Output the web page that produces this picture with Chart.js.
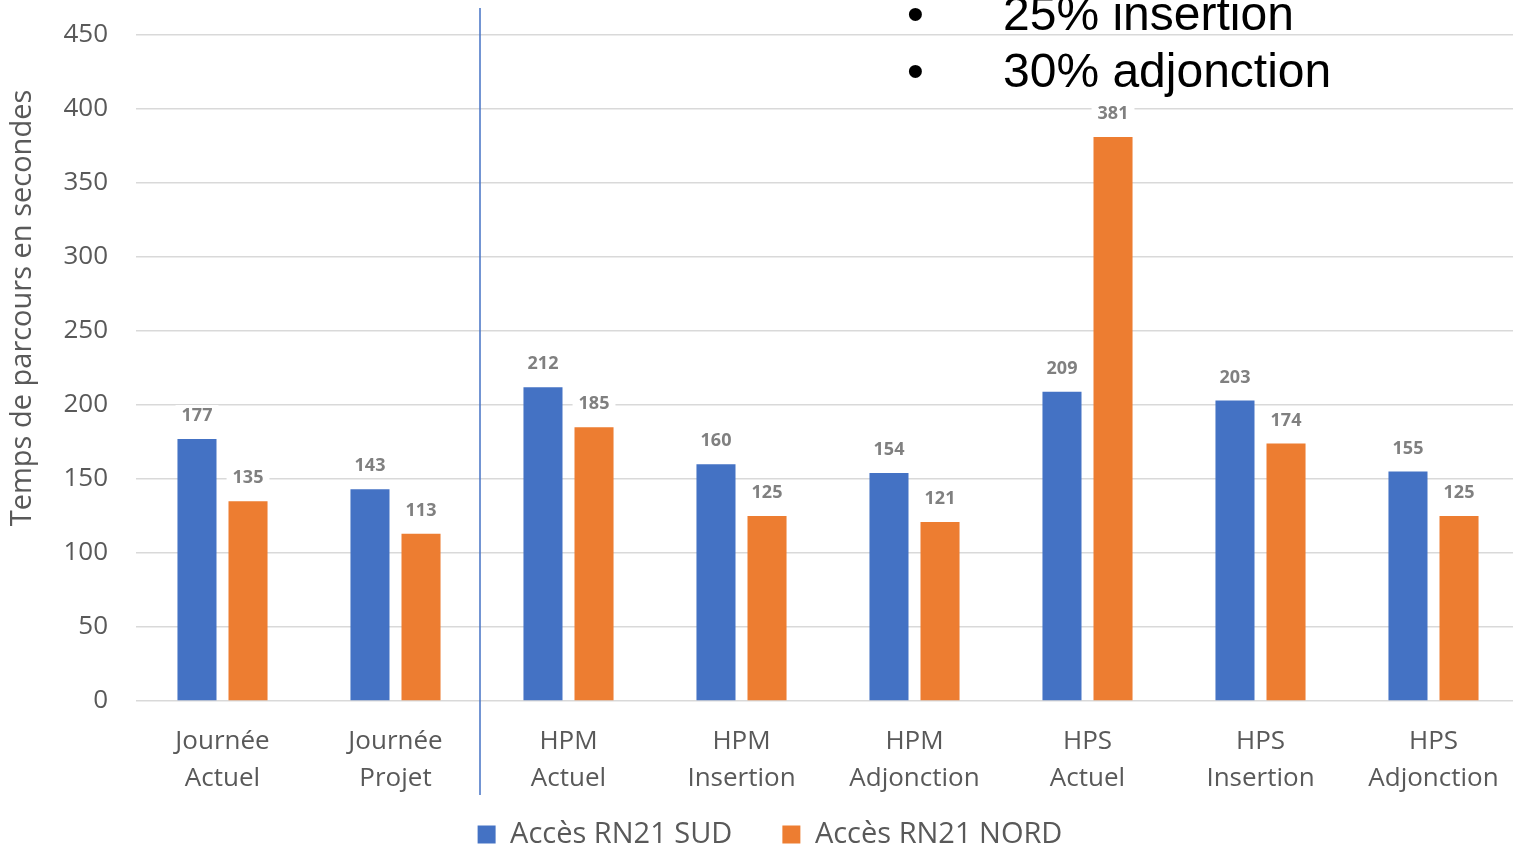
<!DOCTYPE html>
<html>
<head>
<meta charset="utf-8">
<script src="https://cdn.jsdelivr.net/npm/chart.js@4"></script>
<style>
  html, body { margin: 0; padding: 0; background: #fff; overflow: hidden; }
  #wrap { position: relative; width: 1513px; height: 849px; overflow: hidden; }
  .bullet { position: absolute; font-family: "Liberation Sans", Arial, sans-serif; font-size: 48px; color: #000; line-height: 1; white-space: nowrap; }
  .bullet span { position: absolute; left: 0; }
</style>
</head>
<body>
<div id="wrap">
  <canvas id="chart" width="1524" height="857"></canvas>
  <div class="bullet" style="left:907px; top:-10px;"><span>•</span><span style="left:96px;">25% insertion</span></div>
  <div class="bullet" style="left:907px; top:47px;"><span>•</span><span style="left:96px;">30% adjonction</span></div>
</div>
<script>
// Data
const categories = [
  ['Journée', 'Actuel'], ['Journée', 'Projet'],
  ['HPM', 'Actuel'], ['HPM', 'Insertion'], ['HPM', 'Adjonction'],
  ['HPS', 'Actuel'], ['HPS', 'Insertion'], ['HPS', 'Adjonction']
];
const sudValues = [177, 143, 212, 160, 154, 209, 203, 155];
const nordValues = [135, 113, 185, 125, 121, 381, 174, 125];
const yTicks = [0, 50, 100, 150, 200, 250, 300, 350, 400, 450];
const yTitle = 'Temps de parcours en secondes';

const FONT = '"Open Sans", "Noto Sans", sans-serif';
const GREY = '#595959';

// Value labels with white box behind (break the gridlines)
const valueLabels = {
  id: 'valueLabels',
  afterDatasetsDraw(chart) {
    const ctx = chart.ctx;
    ctx.save();
    ctx.font = 'bold 18px ' + FONT;
    ctx.textAlign = 'center';
    ctx.textBaseline = 'middle';
    chart.data.datasets.forEach((ds, i) => {
      chart.getDatasetMeta(i).data.forEach((bar, j) => {
        const txt = String(ds.data[j]);
        const w = ctx.measureText(txt).width + 12;
        const y = bar.y - 23;
        ctx.fillStyle = '#fff';
        ctx.fillRect(bar.x - w / 2, y - 11, w, 22);
        ctx.fillStyle = '#808080';
        ctx.fillText(txt, bar.x, y);
      });
    });
    ctx.restore();
  }
};

// Separator between "Journée" and peak-hour groups, plus y title (sits above centre)
const extras = {
  id: 'extras',
  afterLayout(chart) {
    // nudge legend like the original
    const lg = chart.legend;
    lg.left += 10; lg.right += 10;
    lg.top += 2; lg.bottom += 2;
  },
  afterDraw(chart) {
    const x = chart.scales.x;
    const px = (x.getPixelForValue(1) + x.getPixelForValue(2)) / 2 - 2;
    const ctx = chart.ctx;
    ctx.save();
    ctx.strokeStyle = '#4472C4';
    ctx.lineWidth = 1.5;
    ctx.beginPath();
    ctx.moveTo(px, 8);
    ctx.lineTo(px, 795);
    ctx.stroke();

    ctx.translate(23, 308);
    ctx.rotate(-Math.PI / 2);
    ctx.font = '29px ' + FONT;
    ctx.fillStyle = GREY;
    ctx.textAlign = 'center';
    ctx.textBaseline = 'middle';
    ctx.fillText(yTitle, 0, 0);
    ctx.restore();
  }
};

const ctx = document.getElementById('chart').getContext('2d');
const chart = new Chart(ctx, {
  type: 'bar',
  data: {
    labels: categories,
    datasets: [
      { label: 'Accès RN21 SUD', data: sudValues, backgroundColor: '#4472C4' },
      { label: 'Accès RN21 NORD', data: nordValues, backgroundColor: '#ED7D31' }
    ]
  },
  options: {
    responsive: false,
    animation: false,
    devicePixelRatio: 1,
    categoryPercentage: 0.59,
    barPercentage: 0.765,
    layout: { padding: { top: 35, right: 4, left: 0, bottom: 0 } },
    plugins: {
      tooltip: { enabled: false },
      legend: {
        position: 'bottom',
        labels: {
          font: { family: FONT, size: 29 },
          color: GREY,
          boxWidth: 18,
          boxHeight: 18,
          padding: 50,
          useBorderRadius: false
        }
      }
    },
    scales: {
      x: {
        grid: { display: false, drawTicks: false },
        border: { display: false },
        afterFit(axis) {
          axis.height = 67;
          axis._computeLabelArea = () => undefined; // let 2nd line spill past the box
        },
        ticks: {
          font: { family: FONT, size: 26, lineHeight: 1.42 },
          color: GREY,
          padding: 22,
          maxRotation: 0
        }
      },
      y: {
        min: 0,
        max: 450,
        afterBuildTicks(axis) { axis.ticks = yTicks.map(v => ({ value: v })); },
        afterFit(axis) {
          axis.width = 136;
          axis.paddingTop = 0;
          axis.paddingBottom = 0;
        },
        grid: { color: '#d9d9d9', lineWidth: 1.5, drawTicks: false },
        border: { display: false },
        ticks: {
          font: { family: FONT, size: 26 },
          color: GREY,
          padding: 28
        }
      }
    }
  },
  plugins: [valueLabels, extras]
});
</script>
</body>
</html>
